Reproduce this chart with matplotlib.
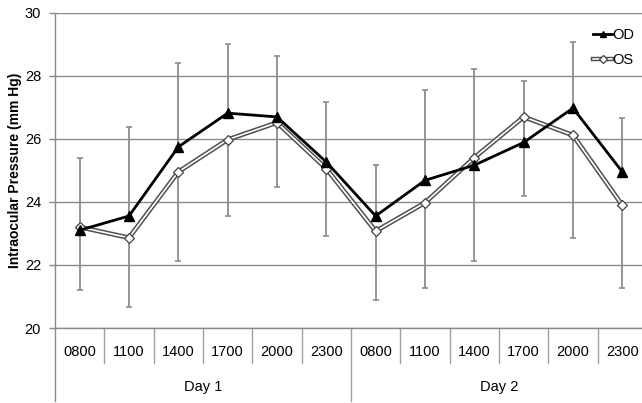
import numpy as np
import matplotlib
matplotlib.use("Agg")
import matplotlib.pyplot as plt
from matplotlib.lines import Line2D

plt.rcParams["font.family"] = ["Liberation Sans", "DejaVu Sans"]

# ----------------------------------------------------------
# DATA
# ----------------------------------------------------------
times = ["0800", "1100", "1400", "1700", "2000", "2300"]
days = ["Day 1", "Day 2"]

od_mean = [23.10, 23.55, 25.74, 26.81, 26.69, 25.26,
           23.55, 24.68, 25.16, 25.88, 26.97, 24.95]
od_sd = [2.30, 2.82, 2.66, 2.20, 1.92, 1.90,
         1.63, 2.87, 3.04, 1.95, 2.09, 1.72]

os_mean = [23.20, 22.86, 24.95, 25.97, 26.51, 25.05,
           23.07, 23.97, 25.40, 26.69, 26.11, 23.89]
os_sd = [1.98, 2.19, 2.82, 2.42, 2.04, 2.14,
         2.18, 2.69, 3.27, 2.51, 3.27, 2.61]

# ----------------------------------------------------------
# VISUAL
# ----------------------------------------------------------
GRID = "#8a8a8a"
ERR = "#8c8c8c"
FS = 10.5

n = len(times) * len(days)
x = np.arange(n)
zeros = np.zeros(n)

fig = plt.figure(figsize=(6.42, 4.03), dpi=100)
ax = fig.add_axes([55 / 642, 75 / 403, 1 - 55 / 642, 315.5 / 403])

# error bars (OD upward, OS downward)
ax.errorbar(x, od_mean, yerr=[zeros, od_sd], fmt="none", ecolor=ERR,
            elinewidth=1.3, capsize=2.0, capthick=1.2, zorder=2)
ax.errorbar(x, os_mean, yerr=[os_sd, zeros], fmt="none", ecolor=ERR,
            elinewidth=1.3, capsize=2.0, capthick=1.2, zorder=2)

# OS: double line look
ax.plot(x, os_mean, color="#505050", lw=3.4, zorder=3, solid_joinstyle="miter")
ax.plot(x, os_mean, color="white", lw=1.2, zorder=4, solid_joinstyle="miter")
ax.plot(x, os_mean, ls="none", marker="D", ms=5.5, mfc="white",
        mec="#404040", mew=0.9, zorder=5)

# OD
ax.plot(x, od_mean, color="black", lw=2.0, marker="^", ms=6.5,
        mfc="black", mec="black", zorder=6)

ax.set_xlim(-0.5, -0.5 + (642 - 55) / 49.33)
ax.set_ylim(20, 30)
ax.set_yticks(np.arange(20, 31, 2))
ax.yaxis.grid(True, color=GRID, lw=1.0)
ax.set_axisbelow(True)
ax.tick_params(axis="y", length=4, width=1, color=GRID, labelsize=FS, pad=6)
ax.set_xticks([])
for s in ["top", "right", "left"]:
    ax.spines[s].set_visible(False)
ax.spines["bottom"].set_color(GRID)
ax.spines["bottom"].set_linewidth(1.0)

ax.set_ylabel("Intraocular Pressure (mm Hg)", fontsize=10, fontweight="bold")
ax.yaxis.set_label_coords(-0.056, 0.5)

# multi-level category axis
tr = ax.get_xaxis_transform()
ax.add_line(Line2D([-0.5, -0.5], [1, -0.23], transform=tr, color=GRID,
                   lw=1.0, clip_on=False))
for i in range(1, n):
    low = -0.23 if i % len(times) == 0 else -0.112
    ax.add_line(Line2D([i - 0.5, i - 0.5], [0, low], transform=tr,
                       color="#a0a0a0", lw=1.0, clip_on=False))
for i in range(n):
    ax.text(x[i], -0.076, times[i % len(times)], transform=tr, ha="center",
            va="center", fontsize=FS)
for d, day in enumerate(days):
    ax.text(d * len(times) + (len(times) - 1) / 2, -0.186, day, transform=tr,
            ha="center", va="center", fontsize=FS)

# legend
h_od = Line2D([], [], color="black", lw=2.0, marker="^", ms=5, mfc="black")
h_os_a = Line2D([], [], color="#505050", lw=3.2)
h_os_b = Line2D([], [], color="white", lw=1.1, marker="D", ms=4.5,
                mfc="white", mec="#404040", mew=0.9)
ax.legend([h_od, (h_os_a, h_os_b)], ["OD", "OS"], loc="upper right",
          bbox_to_anchor=(1.0, 0.975), frameon=False, fontsize=FS,
          handlelength=1.3, handletextpad=0.05, labelspacing=0.75,
          borderaxespad=0.1)

fig.savefig("out.png", dpi=100)
